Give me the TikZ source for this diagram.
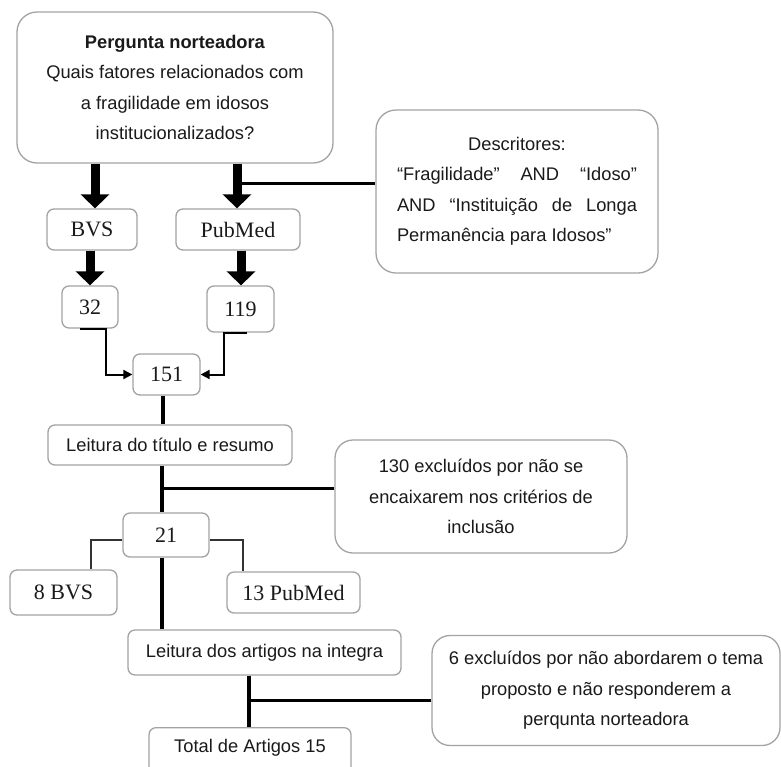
\documentclass[tikz,border=0pt]{standalone}
\usepackage{fontspec}
\setmainfont{Liberation Serif}
\setsansfont{Liberation Sans}
\usetikzlibrary{arrows.meta}
\definecolor{boxgray}{HTML}{A3A3A3}
\definecolor{txt}{HTML}{1A1A1A}
\begin{document}
\begin{tikzpicture}[x=1pt,y=-1pt,
  box/.style={draw=boxgray, line width=1.3pt, rounded corners=7pt, fill=white, inner sep=0pt, align=center, text=txt},
  bigbox/.style={box, rounded corners=20pt},
  sans/.style={font=\sffamily\fontsize{18.3}{30.5}\selectfont},
  serif/.style={font=\rmfamily\fontsize{22}{26}\selectfont},
  fat/.style={line width=9pt, -{Triangle[length=14pt,width=28pt]}},
  heavy/.style={line width=3.5pt},
  elbow/.style={line width=2pt, -{Triangle[length=9pt,width=9pt]}},
  branch/.style={line width=2.2pt, draw=black!80}
]
\useasboundingbox (0,0) rectangle (781,766);
\clip (0,0) rectangle (781,766);

% nodes
\node[bigbox, sans, minimum width=316pt, minimum height=151pt] (q) at (175,87.5)
  {\textbf{Pergunta norteadora}\\Quais fatores relacionados com\\a fragilidade em idosos\\institucionalizados?};
\node[bigbox, sans, minimum width=282pt, minimum height=163pt] (desc) at (517,191.5)
  {Descritores:\\\makebox[240pt]{“Fragilidade”\hfill AND\hfill “Idoso”}\\\makebox[240pt]{AND\hfill “Instituição\hfill de\hfill Longa}\\\makebox[240pt][l]{Permanência para Idosos”}};
\node[box, serif, minimum width=90pt, minimum height=41pt] (bvs) at (92,229.5) {BVS};
\node[box, serif, minimum width=124pt, minimum height=41pt] (pub) at (238,229.5) {PubMed};
\node[box, serif, minimum width=56pt, minimum height=42pt] (n32) at (90,307) {32};
\node[box, serif, minimum width=67pt, minimum height=46pt] (n119) at (240.5,309) {119};
\node[box, serif, minimum width=67pt, minimum height=41pt] (n151) at (166.5,374.5) {151};
\node[box, sans, minimum width=244pt, minimum height=40pt] (lt1) at (170,445) {Leitura do título e resumo};
\node[bigbox, sans, rounded corners=18pt, minimum width=292pt, minimum height=113pt] (ex1) at (481,496.5)
  {130 excluídos por não se\\encaixarem nos critérios de\\inclusão};
\node[box, serif, minimum width=86pt, minimum height=44pt] (n21) at (166,535) {21};
\node[box, serif, minimum width=107pt, minimum height=45pt] (b8) at (63.5,592.5) {8 BVS};
\node[box, serif, minimum width=133pt, minimum height=41pt] (p13) at (293.5,592.5) {13 PubMed};
\node[box, sans, minimum width=273pt, minimum height=45pt] (lt2) at (264.5,652.5) {Leitura dos artigos na integra};
\node[bigbox, sans, rounded corners=18pt, minimum width=348pt, minimum height=110pt] (ex2) at (606,690.5)
  {6 excluídos por não abordarem o tema\\proposto e não responderem a\\perqunta norteadora};
\node[box, minimum width=202pt, minimum height=60pt, anchor=north] (tot) at (250,727) {};
\node[sans, text=txt] (tottxt) at (250,748) {Total de Artigos 15};

% helper coordinates
\coordinate (x95) at (95,0);
\coordinate (x237) at (237,0);
\coordinate (x90) at (90,0);
\coordinate (x241) at (241,0);
\coordinate (x80) at (80,0);
\coordinate (x106) at (106,0);
\coordinate (x247) at (247,0);
\coordinate (x224) at (224,0);
\coordinate (x163) at (163,0);
\coordinate (x162) at (162,0);
\coordinate (x91) at (91,0);
\coordinate (x243) at (243,0);
\coordinate (x249) at (249,0);
\coordinate (dj) at (237,183);
\coordinate (j1) at (162,488);
\coordinate (l21) at (0,540);
\coordinate (j2) at (249,700);

% connectors
\draw[fat] (q.south -| x95) -- (bvs.north -| x95);
\draw[fat] (q.south -| x237) -- (pub.north -| x237);
\draw[line width=3pt] (dj) -- (dj -| desc.west);
\draw[fat] (bvs.south -| x90) -- (n32.north -| x90);
\draw[fat] (pub.south -| x241) -- (n119.north -| x241);
\draw[elbow] (n32.south -| x80) -- (n32.south -| x106) |- (n151.west);
\draw[elbow] (n119.south -| x247) -- (n119.south -| x224) |- (n151.east);
\draw[heavy] (n151.south -| x163) -- (lt1.north -| x163);
\draw[heavy] (lt1.south -| x162) -- (n21.north -| x162);
\draw[line width=3pt] (j1) -- (j1 -| ex1.west);
\draw[branch] (n21.west |- l21) -| (b8.north -| x91);
\draw[branch] (n21.east |- l21) -| (p13.north -| x243);
\draw[heavy] (n21.south -| x162) -- (lt2.north -| x162);
\draw[heavy] (lt2.south -| x249) -- (tot.north -| x249);
\draw[line width=3pt] (j2) -- (j2 -| ex2.west);
\end{tikzpicture}
\end{document}
